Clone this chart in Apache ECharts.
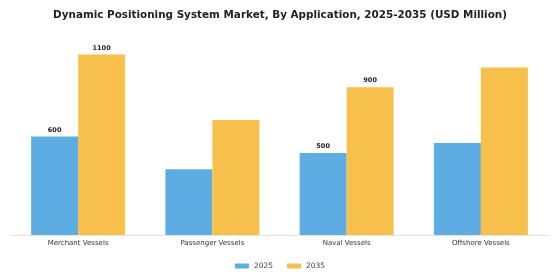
<!DOCTYPE html>
<html>
<head>
<meta charset="utf-8">
<script src="https://cdn.jsdelivr.net/npm/echarts@6/dist/echarts.min.js"></script>
<style>
  html, body { margin: 0; padding: 0; background: #fff; }
  #main { width: 560px; height: 280px; }
</style>
</head>
<body>
<div id="main"></div>
<script>
var categories = ['Merchant Vessels', 'Passenger Vessels', 'Naval Vessels', 'Offshore Vessels'];
var values2025 = [600, 400, 500, 560];
var values2035 = [1100, 700, 900, 1020];
// only these bars carry a value label in the reference
var labelled = [true, false, true, false];

function withLabels(values) {
  return values.map(function (v, i) {
    return { value: v, label: { show: labelled[i] } };
  });
}

var chartDom = document.getElementById('main');
var myChart = echarts.init(chartDom, null, { renderer: 'canvas' });
var font = 'DejaVu Sans';

var option = {
  animation: false,
  title: {
    text: 'Dynamic Positioning System Market, By Application, 2025-2035 (USD Million)',
    left: 'center',
    top: 5,
    textStyle: { fontFamily: font, fontSize: 10.4, fontWeight: 'bold', color: '#222' }
  },
  legend: {
    data: ['2025', '2035'],
    bottom: 5,
    left: 'center',
    itemWidth: 14,
    itemHeight: 5,
    itemGap: 14,
    icon: 'rect',
    textStyle: { fontFamily: font, fontSize: 7.5, color: '#444' }
  },
  grid: {
    left: 11,
    right: 12,
    top: 38,
    bottom: 45
  },
  xAxis: {
    type: 'category',
    data: categories,
    axisTick: { show: false },
    axisLine: { lineStyle: { color: '#e4e4e4', width: 1 } },
    axisLabel: { fontFamily: font, fontSize: 7, color: '#333', margin: 5 }
  },
  yAxis: {
    type: 'value',
    min: 0,
    max: 1200,
    show: false,
    splitLine: { show: false }
  },
  series: [
    {
      name: '2025',
      type: 'bar',
      barGap: '0%',
      barCategoryGap: '30%',
      itemStyle: { color: '#5DADE2' },
      label: {
        position: 'top',
        distance: 3,
        fontFamily: font,
        fontSize: 6.5,
        fontWeight: 'bold',
        color: '#222'
      },
      data: withLabels(values2025)
    },
    {
      name: '2035',
      type: 'bar',
      barGap: '0%',
      barCategoryGap: '30%',
      itemStyle: { color: '#F7C04A' },
      label: {
        position: 'top',
        distance: 3,
        fontFamily: font,
        fontSize: 6.5,
        fontWeight: 'bold',
        color: '#222'
      },
      data: withLabels(values2035)
    }
  ]
};

myChart.setOption(option);
</script>
</body>
</html>
